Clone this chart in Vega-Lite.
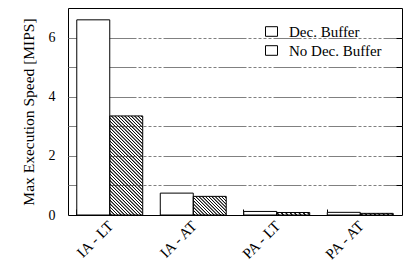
{
  "$schema": "https://vega.github.io/schema/vega-lite/v6.json",
  "width": 334,
  "height": 207,
  "autosize": "none",
  "padding": {"left": 68, "top": 8, "right": 15, "bottom": 47},
  "background": "white",
  "config": {
    "font": "Liberation Serif, serif",
    "view": {"stroke": "black", "strokeWidth": 1},
    "axis": {
      "labelFont": "Liberation Serif, serif",
      "titleFont": "Liberation Serif, serif",
      "labelColor": "black",
      "titleColor": "black",
      "titleFontWeight": "normal",
      "domain": false,
      "tickColor": "black"
    },
    "legend": {"labelFont": "Liberation Serif, serif", "labelColor": "black"}
  },
  "data": {
    "values": [
      {"config": "IA - LT", "buffer": "Dec. Buffer", "speed": 6.6},
      {"config": "IA - LT", "buffer": "No Dec. Buffer", "speed": 3.35},
      {"config": "IA - AT", "buffer": "Dec. Buffer", "speed": 0.74},
      {"config": "IA - AT", "buffer": "No Dec. Buffer", "speed": 0.63},
      {"config": "PA - LT", "buffer": "Dec. Buffer", "speed": 0.12},
      {"config": "PA - LT", "buffer": "No Dec. Buffer", "speed": 0.085},
      {"config": "PA - AT", "buffer": "Dec. Buffer", "speed": 0.09},
      {"config": "PA - AT", "buffer": "No Dec. Buffer", "speed": 0.055}
    ]
  },
  "layer": [
    {
      "transform": [{"filter": "datum.buffer === 'No Dec. Buffer' && datum.config === 'IA - LT'"}],
      "mark": {"type": "bar", "fill": {"gradient": "linear", "x1": 0, "y1": 1, "x2": 0.3995, "y2": -0.2, "stops": [
        {"offset":0.005,"color":"transparent"},{"offset":0.01,"color":"#111"},{"offset":0.015,"color":"#111"},{"offset":0.02,"color":"transparent"},
        {"offset":0.03,"color":"transparent"},{"offset":0.035,"color":"#111"},{"offset":0.04,"color":"#111"},{"offset":0.045,"color":"transparent"},
        {"offset":0.055,"color":"transparent"},{"offset":0.06,"color":"#111"},{"offset":0.065,"color":"#111"},{"offset":0.07,"color":"transparent"},
        {"offset":0.08,"color":"transparent"},{"offset":0.085,"color":"#111"},{"offset":0.09,"color":"#111"},{"offset":0.095,"color":"transparent"},
        {"offset":0.105,"color":"transparent"},{"offset":0.11,"color":"#111"},{"offset":0.115,"color":"#111"},{"offset":0.12,"color":"transparent"},
        {"offset":0.13,"color":"transparent"},{"offset":0.135,"color":"#111"},{"offset":0.14,"color":"#111"},{"offset":0.145,"color":"transparent"},
        {"offset":0.155,"color":"transparent"},{"offset":0.16,"color":"#111"},{"offset":0.165,"color":"#111"},{"offset":0.17,"color":"transparent"},
        {"offset":0.18,"color":"transparent"},{"offset":0.185,"color":"#111"},{"offset":0.19,"color":"#111"},{"offset":0.195,"color":"transparent"},
        {"offset":0.205,"color":"transparent"},{"offset":0.21,"color":"#111"},{"offset":0.215,"color":"#111"},{"offset":0.22,"color":"transparent"},
        {"offset":0.23,"color":"transparent"},{"offset":0.235,"color":"#111"},{"offset":0.24,"color":"#111"},{"offset":0.245,"color":"transparent"},
        {"offset":0.255,"color":"transparent"},{"offset":0.26,"color":"#111"},{"offset":0.265,"color":"#111"},{"offset":0.27,"color":"transparent"},
        {"offset":0.28,"color":"transparent"},{"offset":0.285,"color":"#111"},{"offset":0.29,"color":"#111"},{"offset":0.295,"color":"transparent"},
        {"offset":0.305,"color":"transparent"},{"offset":0.31,"color":"#111"},{"offset":0.315,"color":"#111"},{"offset":0.32,"color":"transparent"},
        {"offset":0.33,"color":"transparent"},{"offset":0.335,"color":"#111"},{"offset":0.34,"color":"#111"},{"offset":0.345,"color":"transparent"},
        {"offset":0.355,"color":"transparent"},{"offset":0.36,"color":"#111"},{"offset":0.365,"color":"#111"},{"offset":0.37,"color":"transparent"},
        {"offset":0.38,"color":"transparent"},{"offset":0.385,"color":"#111"},{"offset":0.39,"color":"#111"},{"offset":0.395,"color":"transparent"},
        {"offset":0.405,"color":"transparent"},{"offset":0.41,"color":"#111"},{"offset":0.415,"color":"#111"},{"offset":0.42,"color":"transparent"},
        {"offset":0.43,"color":"transparent"},{"offset":0.435,"color":"#111"},{"offset":0.44,"color":"#111"},{"offset":0.445,"color":"transparent"},
        {"offset":0.455,"color":"transparent"},{"offset":0.46,"color":"#111"},{"offset":0.465,"color":"#111"},{"offset":0.47,"color":"transparent"},
        {"offset":0.48,"color":"transparent"},{"offset":0.485,"color":"#111"},{"offset":0.49,"color":"#111"},{"offset":0.495,"color":"transparent"},
        {"offset":0.505,"color":"transparent"},{"offset":0.51,"color":"#111"},{"offset":0.515,"color":"#111"},{"offset":0.52,"color":"transparent"},
        {"offset":0.53,"color":"transparent"},{"offset":0.535,"color":"#111"},{"offset":0.54,"color":"#111"},{"offset":0.545,"color":"transparent"},
        {"offset":0.555,"color":"transparent"},{"offset":0.56,"color":"#111"},{"offset":0.565,"color":"#111"},{"offset":0.57,"color":"transparent"},
        {"offset":0.58,"color":"transparent"},{"offset":0.585,"color":"#111"},{"offset":0.59,"color":"#111"},{"offset":0.595,"color":"transparent"},
        {"offset":0.605,"color":"transparent"},{"offset":0.61,"color":"#111"},{"offset":0.615,"color":"#111"},{"offset":0.62,"color":"transparent"},
        {"offset":0.63,"color":"transparent"},{"offset":0.635,"color":"#111"},{"offset":0.64,"color":"#111"},{"offset":0.645,"color":"transparent"},
        {"offset":0.655,"color":"transparent"},{"offset":0.66,"color":"#111"},{"offset":0.665,"color":"#111"},{"offset":0.67,"color":"transparent"},
        {"offset":0.68,"color":"transparent"},{"offset":0.685,"color":"#111"},{"offset":0.69,"color":"#111"},{"offset":0.695,"color":"transparent"},
        {"offset":0.705,"color":"transparent"},{"offset":0.71,"color":"#111"},{"offset":0.715,"color":"#111"},{"offset":0.72,"color":"transparent"},
        {"offset":0.73,"color":"transparent"},{"offset":0.735,"color":"#111"},{"offset":0.74,"color":"#111"},{"offset":0.745,"color":"transparent"},
        {"offset":0.755,"color":"transparent"},{"offset":0.76,"color":"#111"},{"offset":0.765,"color":"#111"},{"offset":0.77,"color":"transparent"},
        {"offset":0.78,"color":"transparent"},{"offset":0.785,"color":"#111"},{"offset":0.79,"color":"#111"},{"offset":0.795,"color":"transparent"},
        {"offset":0.805,"color":"transparent"},{"offset":0.81,"color":"#111"},{"offset":0.815,"color":"#111"},{"offset":0.82,"color":"transparent"},
        {"offset":0.83,"color":"transparent"},{"offset":0.835,"color":"#111"},{"offset":0.84,"color":"#111"},{"offset":0.845,"color":"transparent"},
        {"offset":0.855,"color":"transparent"},{"offset":0.86,"color":"#111"},{"offset":0.865,"color":"#111"},{"offset":0.87,"color":"transparent"},
        {"offset":0.88,"color":"transparent"},{"offset":0.885,"color":"#111"},{"offset":0.89,"color":"#111"},{"offset":0.895,"color":"transparent"},
        {"offset":0.905,"color":"transparent"},{"offset":0.91,"color":"#111"},{"offset":0.915,"color":"#111"},{"offset":0.92,"color":"transparent"},
        {"offset":0.93,"color":"transparent"},{"offset":0.935,"color":"#111"},{"offset":0.94,"color":"#111"},{"offset":0.945,"color":"transparent"},
        {"offset":0.955,"color":"transparent"},{"offset":0.96,"color":"#111"},{"offset":0.965,"color":"#111"},{"offset":0.97,"color":"transparent"},
        {"offset":0.98,"color":"transparent"},{"offset":0.985,"color":"#111"},{"offset":0.99,"color":"#111"},{"offset":0.995,"color":"transparent"}
      ]}},
      "encoding": {
        "x": {"field": "config", "type": "nominal", "sort": null,
              "scale": {"domain": ["IA - LT", "IA - AT", "PA - LT", "PA - AT"], "paddingInner": 0.21, "paddingOuter": 0.105},
              "axis": {"orient": "bottom", "bandPosition": 0, "labels": false, "ticks": true, "tickSize": -6, "grid": false, "domain": false, "title": null}},
        "xOffset": {"field": "buffer", "type": "nominal", "scale": {"domain": ["Dec. Buffer", "No Dec. Buffer"]}},
        "y": {"field": "speed", "type": "quantitative", "scale": {"domain": [0, 7], "nice": false},
              "axis": {"orient": "right", "values": [1, 2, 3, 4, 5, 6], "labels": false, "ticks": true, "tickSize": -6, "grid": false, "domain": false, "title": null}}
      }
    },
    {
      "transform": [{"filter": "datum.buffer === 'No Dec. Buffer' && datum.config === 'IA - AT'"}],
      "mark": {"type": "bar", "fill": {"gradient": "linear", "x1": 0, "y1": 1, "x2": 1.1863, "y2": 0.3298, "stops": [
        {"offset":0.0125,"color":"transparent"},{"offset":0.025,"color":"#111"},{"offset":0.0375,"color":"#111"},{"offset":0.05,"color":"transparent"},
        {"offset":0.075,"color":"transparent"},{"offset":0.0875,"color":"#111"},{"offset":0.1,"color":"#111"},{"offset":0.1125,"color":"transparent"},
        {"offset":0.1375,"color":"transparent"},{"offset":0.15,"color":"#111"},{"offset":0.1625,"color":"#111"},{"offset":0.175,"color":"transparent"},
        {"offset":0.2,"color":"transparent"},{"offset":0.2125,"color":"#111"},{"offset":0.225,"color":"#111"},{"offset":0.2375,"color":"transparent"},
        {"offset":0.2625,"color":"transparent"},{"offset":0.275,"color":"#111"},{"offset":0.2875,"color":"#111"},{"offset":0.3,"color":"transparent"},
        {"offset":0.325,"color":"transparent"},{"offset":0.3375,"color":"#111"},{"offset":0.35,"color":"#111"},{"offset":0.3625,"color":"transparent"},
        {"offset":0.3875,"color":"transparent"},{"offset":0.4,"color":"#111"},{"offset":0.4125,"color":"#111"},{"offset":0.425,"color":"transparent"},
        {"offset":0.45,"color":"transparent"},{"offset":0.4625,"color":"#111"},{"offset":0.475,"color":"#111"},{"offset":0.4875,"color":"transparent"},
        {"offset":0.5125,"color":"transparent"},{"offset":0.525,"color":"#111"},{"offset":0.5375,"color":"#111"},{"offset":0.55,"color":"transparent"},
        {"offset":0.575,"color":"transparent"},{"offset":0.5875,"color":"#111"},{"offset":0.6,"color":"#111"},{"offset":0.6125,"color":"transparent"},
        {"offset":0.6375,"color":"transparent"},{"offset":0.65,"color":"#111"},{"offset":0.6625,"color":"#111"},{"offset":0.675,"color":"transparent"},
        {"offset":0.7,"color":"transparent"},{"offset":0.7125,"color":"#111"},{"offset":0.725,"color":"#111"},{"offset":0.7375,"color":"transparent"},
        {"offset":0.7625,"color":"transparent"},{"offset":0.775,"color":"#111"},{"offset":0.7875,"color":"#111"},{"offset":0.8,"color":"transparent"},
        {"offset":0.825,"color":"transparent"},{"offset":0.8375,"color":"#111"},{"offset":0.85,"color":"#111"},{"offset":0.8625,"color":"transparent"},
        {"offset":0.8875,"color":"transparent"},{"offset":0.9,"color":"#111"},{"offset":0.9125,"color":"#111"},{"offset":0.925,"color":"transparent"},
        {"offset":0.95,"color":"transparent"},{"offset":0.9625,"color":"#111"},{"offset":0.975,"color":"#111"},{"offset":0.9875,"color":"transparent"}
      ]}},
      "encoding": {
        "x": {"field": "config", "type": "nominal", "sort": null, "scale": {"domain": ["IA - LT", "IA - AT", "PA - LT", "PA - AT"], "paddingInner": 0.21, "paddingOuter": 0.105}, "axis": null},
        "xOffset": {"field": "buffer", "type": "nominal", "scale": {"domain": ["Dec. Buffer", "No Dec. Buffer"]}},
        "y": {"field": "speed", "type": "quantitative", "scale": {"domain": [0, 7], "nice": false}, "axis": null}
      }
    },
    {
      "transform": [{"filter": "datum.buffer === 'No Dec. Buffer' && (datum.config === 'PA - LT' || datum.config === 'PA - AT')"}],
      "mark": {"type": "bar", "fill": {"gradient": "linear", "x1": 0, "y1": 1, "x2": 1.0605, "y2": 0.9311, "stops": [
        {"offset":0.025,"color":"transparent"},{"offset":0.05,"color":"#111"},{"offset":0.075,"color":"#111"},{"offset":0.1,"color":"transparent"},
        {"offset":0.15,"color":"transparent"},{"offset":0.175,"color":"#111"},{"offset":0.2,"color":"#111"},{"offset":0.225,"color":"transparent"},
        {"offset":0.275,"color":"transparent"},{"offset":0.3,"color":"#111"},{"offset":0.325,"color":"#111"},{"offset":0.35,"color":"transparent"},
        {"offset":0.4,"color":"transparent"},{"offset":0.425,"color":"#111"},{"offset":0.45,"color":"#111"},{"offset":0.475,"color":"transparent"},
        {"offset":0.525,"color":"transparent"},{"offset":0.55,"color":"#111"},{"offset":0.575,"color":"#111"},{"offset":0.6,"color":"transparent"},
        {"offset":0.65,"color":"transparent"},{"offset":0.675,"color":"#111"},{"offset":0.7,"color":"#111"},{"offset":0.725,"color":"transparent"},
        {"offset":0.775,"color":"transparent"},{"offset":0.8,"color":"#111"},{"offset":0.825,"color":"#111"},{"offset":0.85,"color":"transparent"},
        {"offset":0.9,"color":"transparent"},{"offset":0.925,"color":"#111"},{"offset":0.95,"color":"#111"},{"offset":0.975,"color":"transparent"}
      ]}},
      "encoding": {
        "x": {"field": "config", "type": "nominal", "sort": null, "scale": {"domain": ["IA - LT", "IA - AT", "PA - LT", "PA - AT"], "paddingInner": 0.21, "paddingOuter": 0.105}, "axis": null},
        "xOffset": {"field": "buffer", "type": "nominal", "scale": {"domain": ["Dec. Buffer", "No Dec. Buffer"]}},
        "y": {"field": "speed", "type": "quantitative", "scale": {"domain": [0, 7], "nice": false}, "axis": null}
      }
    },
    {
      "mark": {"type": "bar", "stroke": "black", "strokeWidth": 1},
      "encoding": {
        "x": {"field": "config", "type": "nominal", "sort": null,
              "scale": {"domain": ["IA - LT", "IA - AT", "PA - LT", "PA - AT"], "paddingInner": 0.21, "paddingOuter": 0.105},
              "axis": {"orient": "bottom", "title": null, "ticks": false, "grid": false, "domain": false, "labelAngle": -45, "labelAlign": "right", "labelBaseline": "middle", "labelPadding": 8, "labelOffset": 1, "labelFontSize": 15, "labelFont": "Liberation Serif, serif"}},
        "xOffset": {"field": "buffer", "type": "nominal", "scale": {"domain": ["Dec. Buffer", "No Dec. Buffer"]}},
        "y": {"field": "speed", "type": "quantitative", "scale": {"domain": [0, 7], "nice": false},
              "axis": {"orient": "left", "title": "Max Execution Speed [MIPS]", "titleFontSize": 15.5, "titlePadding": 12, "titleFont": "Liberation Serif, serif", "labelFont": "Liberation Serif, serif",
                       "values": [0, 1, 2, 3, 4, 5, 6], "labelExpr": "datum.value % 2 === 0 ? datum.label : ''",
                       "labelFontSize": 14, "labelPadding": 13, "ticks": false, "domain": false,
                       "grid": true, "gridColor": "#808080", "gridWidth": 1,
                       "gridDash": [28, 2, 3, 2, 3, 2, 3, 2, 3, 2, 3, 2], "gridDashOffset": 15,
                       "gridOpacity": {"condition": {"test": "datum.value === 0", "value": 0}, "value": 1}}},
        "fill": {"field": "buffer", "type": "nominal",
                 "scale": {"domain": ["Dec. Buffer", "No Dec. Buffer"], "range": ["white", "transparent"]},
                 "legend": {"title": null, "orient": "none", "legendX": 196, "legendY": 16,
                            "symbolType": "M-1,-0.8H1V0.8H-1Z", "symbolSize": 144,
                            "symbolStrokeColor": "black", "symbolStrokeWidth": 1,
                            "labelFontSize": 15, "labelOffset": 10, "rowPadding": 3, "labelFont": "Liberation Serif, serif",
                            "encode": {"symbols": {"update": {"fill": [
                              {"test": "datum.value === 'No Dec. Buffer'", "value": {"gradient": "linear", "x1": 0, "y1": 1, "x2": 1.0976, "y2": 0.122, "stops": [
                                {"offset":0.04,"color":"transparent"},{"offset":0.08,"color":"#111"},{"offset":0.12,"color":"#111"},{"offset":0.16,"color":"transparent"},
                                {"offset":0.24,"color":"transparent"},{"offset":0.28,"color":"#111"},{"offset":0.32,"color":"#111"},{"offset":0.36,"color":"transparent"},
                                {"offset":0.44,"color":"transparent"},{"offset":0.48,"color":"#111"},{"offset":0.52,"color":"#111"},{"offset":0.56,"color":"transparent"},
                                {"offset":0.64,"color":"transparent"},{"offset":0.68,"color":"#111"},{"offset":0.72,"color":"#111"},{"offset":0.76,"color":"transparent"},
                                {"offset":0.84,"color":"transparent"},{"offset":0.88,"color":"#111"},{"offset":0.92,"color":"#111"},{"offset":0.96,"color":"transparent"}
                              ]}},
                              {"value": "white"}
                            ], "stroke": {"value": "black"}, "strokeWidth": {"value": 1}, "opacity": {"value": 1}}}}}}
      }
    }
  ],
  "resolve": {"axis": {"x": "independent", "y": "independent"}}
}
